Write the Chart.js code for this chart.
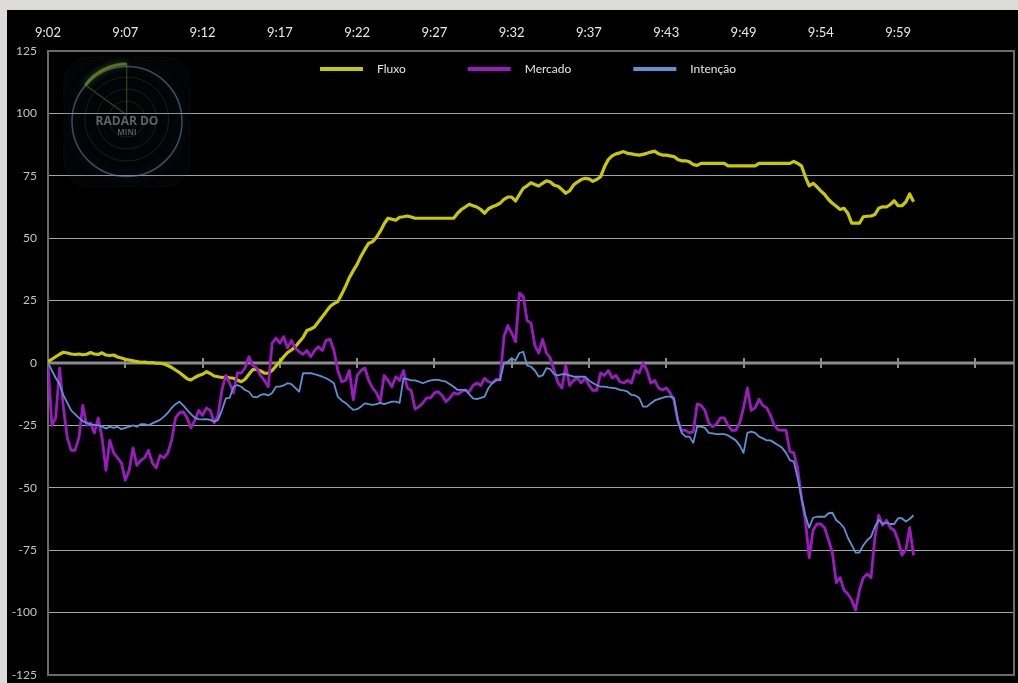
<!DOCTYPE html>
<html><head><meta charset="utf-8">
<script src="https://cdn.jsdelivr.net/npm/chart.js@4.4.1/dist/chart.umd.min.js"></script>
<style>
html,body{margin:0;padding:0;background:#dddbd7;overflow:hidden;width:1018px;height:683px;}
#panel{position:absolute;left:7px;top:10px;width:1011px;height:673px;background:#000;}
canvas{display:block;}
</style></head><body>
<div id="panel"><canvas id="c" width="1011" height="673"></canvas></div>
<script>
// ---- data ----
const timeLabels = ['9:02','9:07','9:12','9:17','9:22','9:27','9:32','9:37','9:43','9:49','9:54','9:59'];
const pointsPerLabel = 20;
const xMax = 250;
const yMin = -125, yMax = 125, yStep = 25;

const fluxo = [
0.5,1.5,2.5,3.5,4.3,4.0,3.6,3.4,3.6,3.3, 3.5,4.2,3.6,3.4,4.1,3.2,3.0,3.2,2.4,2.0,
1.5,1.2,0.9,0.6,0.3,0.4,0.1,0.2,-0.1,-0.1, -0.4,-1.0,-1.8,-2.8,-3.8,-5.0,-6.3,-6.8,-5.8,-5.0,
-4.5,-3.5,-4.2,-5.2,-5.5,-5.8,-5.6,-5.9,-6.1,-6.8, -7.5,-6.5,-4.5,-2.6,-2.6,-3.2,-4.1,-4.1,-3.0,-1.2,
0.5,2.5,4.2,5.2,6.5,8.4,10.2,13.0,13.6,14.5, 16.5,18.5,20.6,22.6,23.8,24.6,27.5,30.7,34.2,37.0,
39.5,42.8,45.5,48.0,48.6,50.3,52.8,55.8,58.0,57.6, 57.2,58.4,58.6,58.9,58.5,58.0,58.0,58.0,58.0,58.0,
58.0,58.0,58.0,58.0,58.0,58.0,60.0,61.5,62.5,63.6, 63.0,62.5,61.5,60.0,61.8,62.6,63.2,64.0,65.6,66.5,
66.5,64.9,67.5,70.0,71.0,72.2,71.5,70.9,72.0,73.0, 72.5,71.2,70.8,69.5,68.0,69.0,71.3,72.5,73.5,74.0,
73.8,72.8,73.5,74.6,78.5,81.5,83.0,83.8,84.2,84.7, 84.0,83.8,83.5,83.3,83.6,84.0,84.5,84.9,83.8,83.3,
83.3,83.0,82.7,81.5,81.0,81.0,80.6,79.5,79.2,80.0, 80.0,80.0,80.0,80.0,80.0,80.0,79.0,79.0,79.0,79.0,
79.0,79.0,79.0,79.0,80.0,80.0,80.0,80.0,80.0,80.0, 80.0,80.0,80.0,80.8,80.0,79.0,74.6,71.0,72.0,70.6,
69.0,67.5,65.5,64.0,62.8,61.5,62.0,60.0,56.0,56.0, 56.0,58.6,58.8,58.9,59.5,62.0,62.6,62.5,63.5,65.0,
63.0,63.0,64.5,67.7,64.6
];

const mercado = [
0,-25,-22,-2,-18,-30,-35,-35,-30,-17, -25,-24,-28,-22,-30,-43,-31,-36,-38,-40,
-47,-43,-34,-41,-39,-38,-35,-40,-42,-37, -38,-36,-31,-22,-20,-19.5,-22,-26,-23,-19,
-21,-18,-19,-24,-21,-11,-5,-8,-12,-4, -4,-2,2.5,-1,-2,-5,-7,-9.5,8,10,
8,10.5,6,9,6,4.5,3.5,5,2.5,5, 6.5,5,9.2,9.5,5,-3,-7.5,-7,-3,-14.8,
-5,-3,-2,-7,-10,-12,-15.5,-5,-7,-9.5, -5.5,-7,-3,-10,-11,-18.5,-17.5,-16,-14,-14,
-12,-11.5,-13,-15.5,-14,-12,-12.5,-11.5,-10.8,-11.5, -9,-8,-9,-6.1,-7.5,-8,-6.5,-6.8,10.5,15,
12,8.5,28,26.6,17,16,7,4,9.5,4, 2,-3,-8,-10,-1,-9,-7,-6,-8,-6,
-9,-11,-11,-4,-5,-3,-6,-5,-7.5,-8, -7,-8,-3,-4,0,-3,-8,-7,-10,-10.8,
-10,-12,-15,-23,-27,-27,-28,-27.5,-16.5,-17, -19,-24,-25.5,-24.5,-22,-22,-25,-27,-27,-24,
-18,-10,-19,-18,-14.5,-17,-18,-21,-25,-26.8, -27,-27,-35.5,-36,-42,-54,-63,-78,-67,-64.5,
-64.5,-66,-70.9,-76,-88,-86,-91,-92.5,-95,-99, -91,-86,-84.5,-86,-70,-61,-65,-63,-66,-67,
-71,-77,-75,-66,-77
];

const intencao = [
0,-3,-6,-8.5,-13,-16,-19,-20.5,-22,-23.3, -24,-24.5,-24.8,-25,-25.5,-26.3,-25.5,-26,-25.5,-26.5,
-26,-25.5,-25,-25.5,-24.5,-24.5,-25,-24.2,-23.5,-22.8, -21.5,-20,-18,-16.5,-15.5,-17,-18.8,-20.5,-22,-22.5,
-22.6,-22.5,-22.8,-23.5,-22.8,-19,-14.2,-14,-9.5,-8.8, -9.5,-10.8,-11.5,-13.5,-13.8,-12.8,-12.5,-13,-12,-9.5,
-9.5,-9,-8.1,-8.5,-10,-11.5,-4.1,-4.1,-4.1,-4.5, -5,-5.5,-6.1,-7,-8.1,-13.5,-15,-16,-17.5,-18.8,
-18.5,-17.5,-16.2,-16.5,-16.8,-16.5,-16,-16.5,-16,-15.5, -15.5,-16,-6.1,-6.5,-7,-7,-7.5,-8.1,-7.5,-7,
-6.8,-6.8,-7.2,-7.5,-8.5,-9.5,-10.8,-10.8,-10.8,-12.5, -14.2,-14.5,-14,-13.5,-10,-8,-7,-6.8,-0.1,0.5,
1.9,1,4,4.5,-1,-1.5,-3,-5.5,-5,-2.1, -2.5,-4.5,-5,-4.5,-4.5,-5,-5.5,-5.5,-5.5,-5.5,
-7,-8,-8.8,-9.5,-9.5,-9.8,-10,-10.2,-10.8,-11, -11.5,-12.8,-13,-14,-17.5,-17.5,-16.2,-15,-14.5,-14,
-13.5,-13.5,-14,-23,-28,-29.5,-29.5,-32,-25.5,-25.5, -26,-28,-28.2,-28.5,-28.5,-28.5,-29,-30,-31,-33,
-36,-28,-27.5,-28,-29.5,-30.2,-31,-31,-32,-33, -34,-36,-38.9,-39.5,-46,-54,-61,-66,-62,-61.6,
-61.6,-61.6,-60.2,-60,-63,-64.2,-66,-70,-72.9,-76, -76,-73,-71,-69.6,-65.6,-62.9,-64.5,-64,-64.5,-64.5,
-62.2,-62.2,-63.5,-62.5,-61
];

const seriesNames = ['Fluxo','Mercado','Intenção'];
const seriesColors = ['#c9c900','#9a1cbf','#5b93d3'];

// ---- plugins ----
function drawLogo(ctx, a){
  const ox = a.left, oy = a.top;
  ctx.save();
  // faint rounded background
  const rx = ox + 16, ry = oy + 6, rw = 126, rh = 130, rr = 26;
  ctx.beginPath();
  ctx.moveTo(rx+rr, ry); ctx.arcTo(rx+rw, ry, rx+rw, ry+rh, rr);
  ctx.arcTo(rx+rw, ry+rh, rx, ry+rh, rr); ctx.arcTo(rx, ry+rh, rx, ry, rr);
  ctx.arcTo(rx, ry, rx+rw, ry, rr); ctx.closePath();
  ctx.fillStyle = 'rgba(25,35,48,0.12)'; ctx.fill();
  ctx.strokeStyle = 'rgba(110,130,150,0.07)'; ctx.lineWidth = 1; ctx.stroke();
  // outer ring with glow
  const cx = ox + 79, cy = oy + 70.5;
  ctx.shadowColor = 'rgba(70,120,190,0.55)'; ctx.shadowBlur = 12;
  ctx.beginPath(); ctx.arc(cx, cy, 55, 0, Math.PI*2);
  ctx.strokeStyle = 'rgba(105,135,170,0.55)'; ctx.lineWidth = 1.5; ctx.stroke();
  ctx.shadowBlur = 0;
  // inner rings
  const rcx = ox + 78.7, rcy = oy + 64;
  [42, 30, 18].forEach(r => {
    ctx.beginPath(); ctx.arc(rcx, rcy + 4, r, 0, Math.PI*2);
    ctx.strokeStyle = 'rgba(90,95,100,0.28)'; ctx.lineWidth = 1; ctx.stroke();
  });
  // green sweep
  const a1 = -144*Math.PI/180, a2 = -Math.PI/2, R = 51;
  ctx.beginPath(); ctx.moveTo(rcx, rcy); ctx.arc(rcx, rcy, R, a1, a2); ctx.closePath();
  ctx.strokeStyle = 'rgba(100,130,35,0.5)'; ctx.lineWidth = 1.2; ctx.stroke();
  ctx.shadowColor = 'rgba(120,160,40,0.6)'; ctx.shadowBlur = 6;
  ctx.beginPath(); ctx.arc(rcx, rcy, R, a1, a2);
  ctx.strokeStyle = 'rgba(95,128,32,0.85)'; ctx.lineWidth = 3; ctx.stroke();
  ctx.shadowBlur = 0;
  // text
  ctx.textAlign = 'center'; ctx.textBaseline = 'middle';
  ctx.fillStyle = '#626262';
  ctx.font = 'bold 12px "Open Sans", "DejaVu Sans", sans-serif';
  ctx.fillText('RADAR DO', cx, oy + 70.5);
  ctx.fillStyle = '#565656';
  ctx.font = 'bold 8px "Open Sans", "DejaVu Sans", sans-serif';
  ctx.fillText('MINI', cx, oy + 82);
  ctx.restore();
}

const decor = {
  id: 'decor',
  beforeDatasetsDraw(chart){
    const {ctx, chartArea: a, scales: {x, y}} = chart;
    drawLogo(ctx, a);
    ctx.save();
    // plot border
    ctx.strokeStyle = '#6a6a6a'; ctx.lineWidth = 2;
    ctx.strokeRect(a.left, a.top, a.right - a.left, a.bottom - a.top);
    // zero axis line + tick marks
    const y0 = y.getPixelForValue(0);
    ctx.strokeStyle = '#8c8c8c'; ctx.lineWidth = 3;
    ctx.beginPath(); ctx.moveTo(a.left, y0); ctx.lineTo(a.right, y0); ctx.stroke();
    ctx.lineWidth = 2;
    x.ticks.forEach(t => {
      if (t.value <= x.min || t.value >= x.max) return;
      const px = Math.round(x.getPixelForValue(t.value));
      ctx.beginPath(); ctx.moveTo(px, y0 - 5); ctx.lineTo(px, y0 + 5); ctx.stroke();
    });
    ctx.restore();
  },
  afterDatasetsDraw(chart){
    const {ctx, chartArea: a} = chart;
    ctx.save();
    ctx.font = '12px Lato, "Open Sans", sans-serif';
    ctx.textBaseline = 'middle'; ctx.textAlign = 'left';
    const sw = 43, gap = 14, itemGap = 62;
    const ds = chart.data.datasets;
    const widths = ds.map(d => sw + gap + ctx.measureText(d.label).width);
    const total = widths.reduce((s, w) => s + w, 0) + itemGap * (ds.length - 1);
    let xx = (a.left + a.right) / 2 - total / 2 - 3;
    const yy = a.top + 18;
    ds.forEach((d, i) => {
      ctx.strokeStyle = d.borderColor; ctx.lineWidth = 4; ctx.lineCap = 'butt';
      ctx.beginPath(); ctx.moveTo(xx, yy); ctx.lineTo(xx + sw, yy); ctx.stroke();
      ctx.fillStyle = '#e6e6e6';
      ctx.fillText(d.label, xx + sw + gap, yy);
      xx += widths[i] + itemGap;
    });
    ctx.restore();
  }
};

const toXY = arr => arr.map((v, i) => ({x: i, y: v}));
const widthsPx = [3.2, 2.8, 1.8];
const orders = [2, 1, 0];

new Chart(document.getElementById('c'), {
  type: 'line',
  data: {
    datasets: [fluxo, mercado, intencao].map((arr, k) => ({
      label: seriesNames[k],
      data: toXY(arr),
      borderColor: seriesColors[k],
      backgroundColor: seriesColors[k],
      borderWidth: widthsPx[k],
      pointRadius: 0,
      tension: 0,
      fill: false,
      order: orders[k],
      borderJoinStyle: 'round'
    }))
  },
  options: {
    responsive: false,
    animation: false,
    devicePixelRatio: 1,
    layout: {padding: {left: 0, top: 0, right: 4, bottom: 8}},
    plugins: {legend: {display: false}, tooltip: {enabled: false}},
    scales: {
      x: {
        type: 'linear', position: 'top', min: 0, max: xMax,
        afterFit: s => { s.height = 41; s.paddingLeft = 0; s.paddingRight = 0; },
        grid: {display: false},
        border: {display: false},
        ticks: {
          stepSize: pointsPerLabel, autoSkip: false, maxRotation: 0, padding: 2,
          color: '#e8e8e8', font: {family: 'Lato', size: 13},
          callback: v => (Number.isInteger(v / pointsPerLabel) && timeLabels[v / pointsPerLabel]) || ''
        }
      },
      y: {
        min: yMin, max: yMax,
        afterFit: s => { s.width = 41; s.paddingTop = 0; s.paddingBottom = 0; },
        grid: {
          drawTicks: false, lineWidth: 1,
          color: c => (c.tick && c.tick.value === 0) ? 'rgba(0,0,0,0)' : '#a3a3a3'
        },
        border: {display: false},
        ticks: {stepSize: yStep, padding: 11, color: '#c4c4c4', font: {family: 'Lato', size: 12}}
      }
    }
  },
  plugins: [decor]
});
</script>
</body></html>
